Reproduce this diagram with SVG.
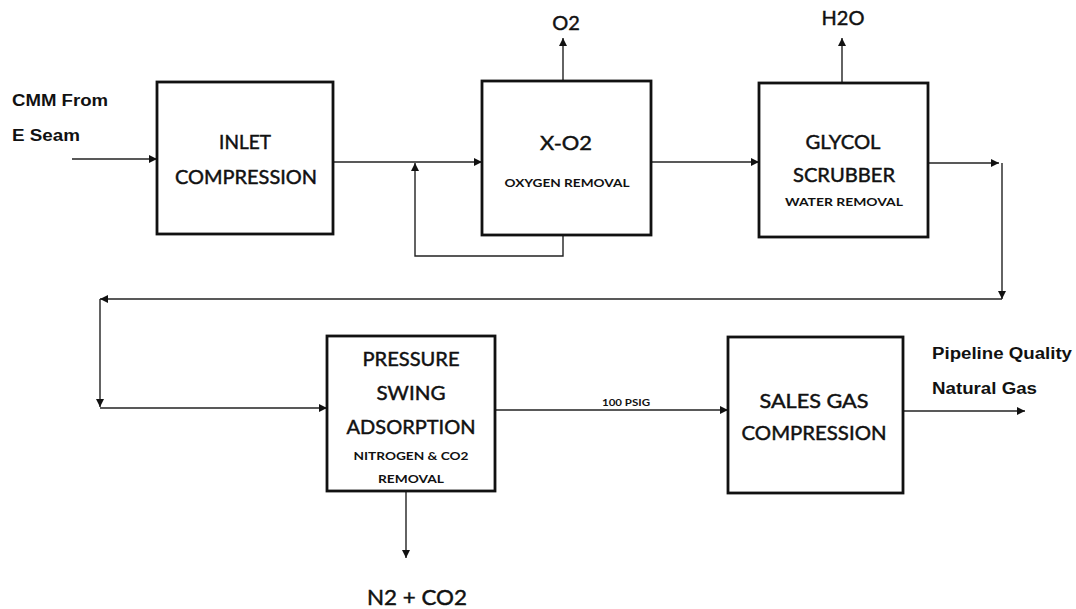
<svg xmlns="http://www.w3.org/2000/svg" width="1076" height="609" viewBox="0 0 1076 609">
<style>
.box{fill:#fff;stroke:#111;stroke-width:2.8}
.c{fill:none;stroke:#222;stroke-width:1.4}
.t{font-family:Lato,"Open Sans",sans-serif;font-size:19px;fill:#111;stroke:#111;stroke-width:0.45;text-anchor:middle}
.s{font-family:Lato,"Open Sans",sans-serif;font-size:12px;font-weight:bold;fill:#111;text-anchor:middle}
.b{font-family:"Liberation Sans",Arial,sans-serif;font-size:16px;font-weight:bold;fill:#111}
</style>
<defs>
<marker id="ah" markerWidth="9" markerHeight="9" refX="8" refY="4.5" orient="auto" markerUnits="userSpaceOnUse">
<path d="M0,0.5 L8,4.5 L0,8.5 Z" fill="#111"/>
</marker>
</defs>
<rect width="1076" height="609" fill="#fff"/>
<g id="connectors">
<path class="c" d="M72,159 L157,159" marker-end="url(#ah)"/>
<path class="c" d="M333,162 L482,162" marker-end="url(#ah)"/>
<path class="c" d="M563,235 L563,256 L415,256 L415,163" marker-end="url(#ah)"/>
<path class="c" d="M563,81 L563,38" marker-end="url(#ah)"/>
<path class="c" d="M651,162 L759,162" marker-end="url(#ah)"/>
<path class="c" d="M842,83 L842,38" marker-end="url(#ah)"/>
<path class="c" d="M928,163 L999,163" marker-end="url(#ah)"/>
<path class="c" d="M1002,163 L1002,299" marker-end="url(#ah)"/>
<path class="c" d="M1002,299 L100,299" marker-end="url(#ah)"/>
<path class="c" d="M100,299 L100,407" marker-end="url(#ah)"/>
<path class="c" d="M100,408 L327,408" marker-end="url(#ah)"/>
<path class="c" d="M495,410 L728,410" marker-end="url(#ah)"/>
<path class="c" d="M406,491 L406,558" marker-end="url(#ah)"/>
<path class="c" d="M903,411 L1025,411" marker-end="url(#ah)"/>
</g>
<g id="labels">
<text class="b" x="12" y="106" textLength="96" lengthAdjust="spacingAndGlyphs">CMM From</text>
<text class="b" x="12" y="141" textLength="68" lengthAdjust="spacingAndGlyphs">E Seam</text>
<text class="t" x="566" y="30" style="font-size:20px">O2</text>
<text class="t" x="843" y="25" style="font-size:20px">H2O</text>
<text class="s" x="626" y="406" style="font-size:8.5px" textLength="48" lengthAdjust="spacingAndGlyphs">100 PSIG</text>
<text class="b" x="932" y="359" textLength="140" lengthAdjust="spacingAndGlyphs">Pipeline Quality</text>
<text class="b" x="932" y="394" textLength="105" lengthAdjust="spacingAndGlyphs">Natural Gas</text>
<text class="t" x="417" y="605" style="font-size:21px" textLength="100" lengthAdjust="spacingAndGlyphs">N2 + CO2</text>
</g>
<g id="inlet">
<rect class="box" x="157" y="82" width="176" height="152"/>
<text class="t" x="245" y="149">INLET</text>
<text class="t" x="246" y="184" textLength="142" lengthAdjust="spacingAndGlyphs">COMPRESSION</text>
</g>
<g id="xo2">
<rect class="box" x="482" y="81" width="169" height="154"/>
<text class="t" x="566" y="150" textLength="52" lengthAdjust="spacingAndGlyphs">X-O2</text>
<text class="s" x="567" y="187" textLength="125" lengthAdjust="spacingAndGlyphs">OXYGEN REMOVAL</text>
</g>
<g id="glycol">
<rect class="box" x="759" y="83" width="169" height="154"/>
<text class="t" x="843" y="149" textLength="75" lengthAdjust="spacingAndGlyphs">GLYCOL</text>
<text class="t" x="844" y="182" textLength="102" lengthAdjust="spacingAndGlyphs">SCRUBBER</text>
<text class="s" x="844" y="206" textLength="118" lengthAdjust="spacingAndGlyphs">WATER REMOVAL</text>
</g>
<g id="psa">
<rect class="box" x="327" y="336" width="168" height="155"/>
<text class="t" x="411" y="366" textLength="97" lengthAdjust="spacingAndGlyphs">PRESSURE</text>
<text class="t" x="411" y="400" textLength="69" lengthAdjust="spacingAndGlyphs">SWING</text>
<text class="t" x="411" y="434" textLength="129" lengthAdjust="spacingAndGlyphs">ADSORPTION</text>
<text class="s" x="411" y="460" textLength="115" lengthAdjust="spacingAndGlyphs">NITROGEN &amp; CO2</text>
<text class="s" x="411" y="483" textLength="66" lengthAdjust="spacingAndGlyphs">REMOVAL</text>
</g>
<g id="sales">
<rect class="box" x="728" y="337" width="175" height="156"/>
<text class="t" x="814" y="408" textLength="109" lengthAdjust="spacingAndGlyphs">SALES GAS</text>
<text class="t" x="814" y="440" textLength="145" lengthAdjust="spacingAndGlyphs">COMPRESSION</text>
</g>
</svg>
